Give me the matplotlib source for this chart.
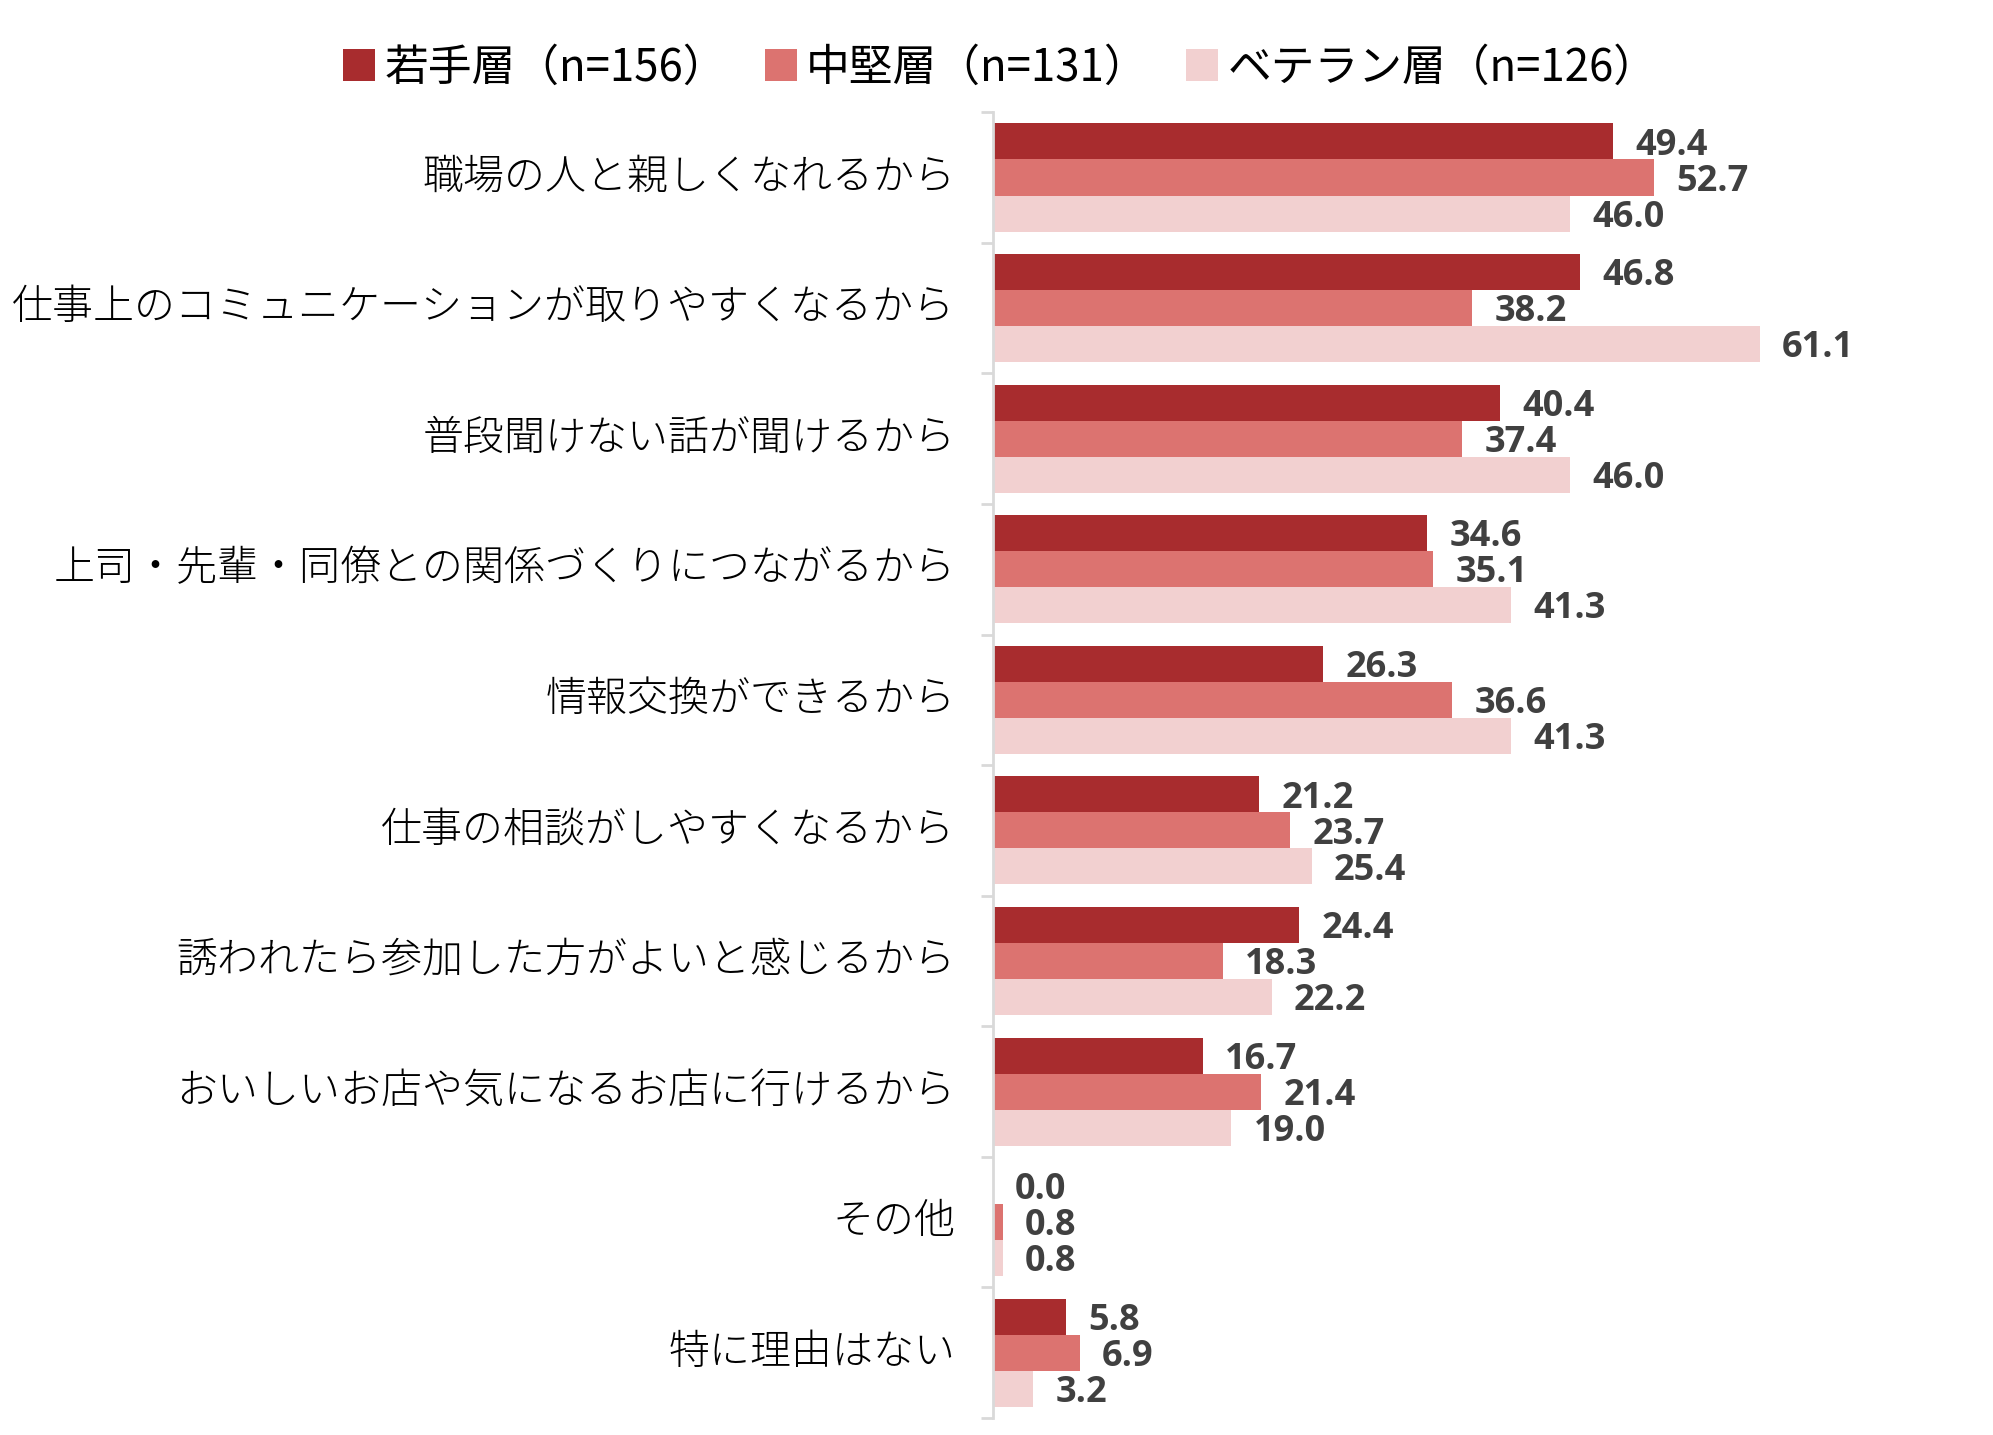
import matplotlib
matplotlib.use('Agg')
import matplotlib.pyplot as plt
from matplotlib.patches import Patch
from matplotlib.transforms import ScaledTranslation
import numpy as np

plt.rcParams['font.family'] = ['Noto Sans CJK JP', 'DejaVu Sans']

categories = ['職場の人と親しくなれるから',
              '仕事上のコミュニケーションが取りやすくなるから',
              '普段聞けない話が聞けるから',
              '上司・先輩・同僚との関係づくりにつながるから',
              '情報交換ができるから',
              '仕事の相談がしやすくなるから',
              '誘われたら参加した方がよいと感じるから',
              'おいしいお店や気になるお店に行けるから',
              'その他',
              '特に理由はない']
young = [49.4, 46.8, 40.4, 34.6, 26.3, 21.2, 24.4, 16.7, 0.0, 5.8]
middle = [52.7, 38.2, 37.4, 35.1, 36.6, 23.7, 18.3, 21.4, 0.8, 6.9]
veteran = [46.0, 61.1, 46.0, 41.3, 41.3, 25.4, 22.2, 19.0, 0.8, 3.2]
series_names = ['若手層（n=156）', '中堅層（n=131）', 'ベテラン層（n=126）']
colors = ['#A82C2E', '#DC7370', '#F2D0D0']

fig = plt.figure(figsize=(19.93, 14.35), dpi=100)
ax = fig.add_axes([0.4982, 0.0118, 0.4534, 0.910])

y = np.arange(len(categories))
h = 0.276
for k, (vals, col) in enumerate(zip([young, middle, veteran], colors)):
    pos = y + (k - 1) * h
    ax.barh(pos, vals, height=h, color=col, edgecolor='none')
    for p, v in zip(pos, vals):
        ax.annotate(f'{v:.1f}', xy=(v, p), xytext=(16, -3), textcoords='offset points',
                    ha='left', va='center', fontsize=26, fontweight='bold',
                    color='#404040', family=['Open Sans', 'DejaVu Sans'])

ax.set_xlim(0, 72)
ax.set_ylim(len(categories) - 0.5, -0.5)
ax.set_yticks(y)
ax.set_yticklabels(categories, fontsize=29.5, fontweight='light')
ax.set_yticks(np.arange(len(categories) + 1) - 0.5, minor=True)
ax.tick_params(axis='y', which='major', length=0, pad=27)
ax.tick_params(axis='y', which='minor', length=9, width=2, color='#D9D9D9')
ax.set_xticks([])
for s in ['top', 'right', 'bottom']:
    ax.spines[s].set_visible(False)
ax.spines['left'].set_color('#D9D9D9')
ax.spines['left'].set_linewidth(2)

shift = ScaledTranslation(0, 0.06, fig.dpi_scale_trans)
for lab in ax.get_yticklabels():
    lab.set_transform(lab.get_transform() + shift)

handles = [Patch(facecolor=c, edgecolor='none') for c in colors]
fig.legend(handles, series_names, loc='center', bbox_to_anchor=(0.502, 0.953), ncol=3,
           frameon=False, fontsize=31.5, handlelength=0.73, handleheight=0.73,
           handletextpad=0.22, columnspacing=0.85)

fig.savefig('out.png', dpi=100)
